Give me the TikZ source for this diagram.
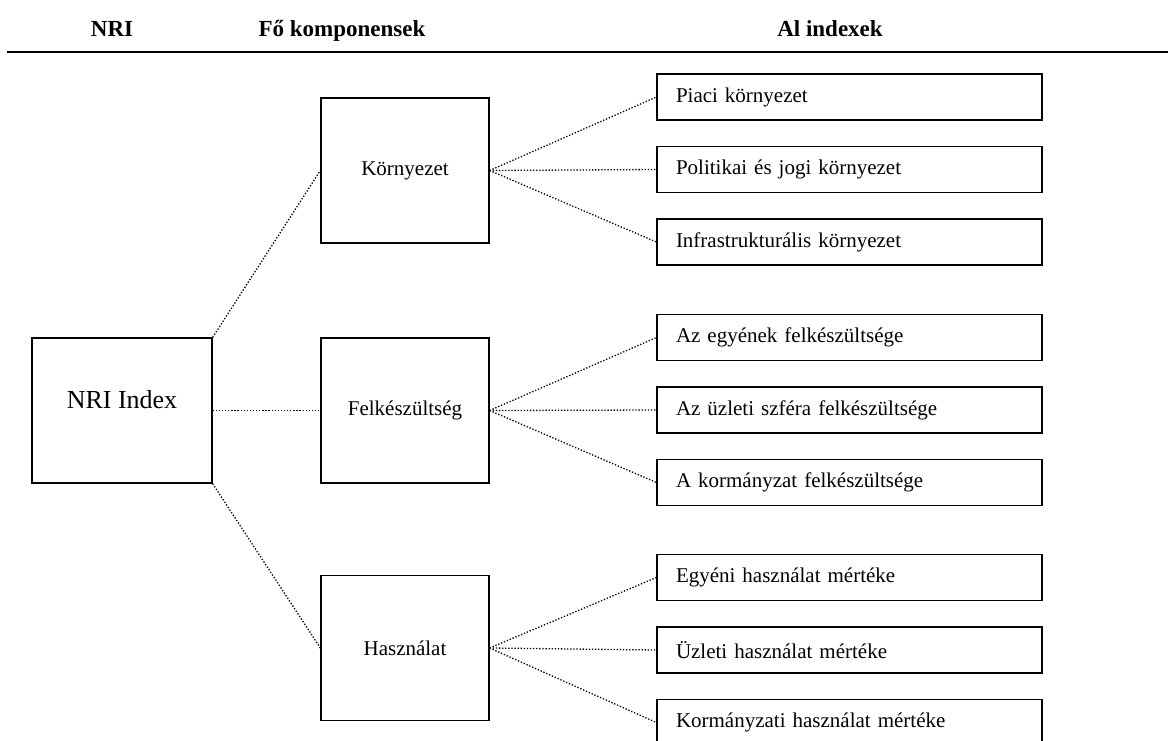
\documentclass[tikz,border=0pt]{standalone}
\usepackage{fontspec}
\setmainfont{Liberation Serif}
\begin{document}
\begin{tikzpicture}[x=1pt,y=-1pt,
  fobox/.style={draw, line width=1.3pt, minimum width=168pt, minimum height=145pt, font=\fontsize{21}{25}\selectfont},
  albox/.style={draw, line width=1.3pt, text width=347pt, inner xsep=19pt, minimum height=46pt, align=left, font=\fontsize{21}{25}\selectfont},
  fejlec/.style={anchor=base, font=\fontsize{23}{27}\selectfont\bfseries},
  pont/.style={line width=1.3pt, dash pattern=on 1.3pt off 1.8pt}]
\useasboundingbox (0,0) rectangle (1168,740);

% fejlec
\node(FNRI)[fejlec] at (112,36) {NRI};
\node(FKomp)[fejlec] at (342,36) {Fő komponensek};
\node(FAl)[fejlec] at (830,36) {Al indexek};
\draw[line width=2pt] (7,52) -- (1168,52);

% NRI
\node(NRI)[draw, line width=1.3pt, minimum width=180pt, minimum height=145pt,
  label={[yshift=11pt, font=\fontsize{26}{30}\selectfont]center:NRI Index}] at (122,410.5) {};

% fo komponensek
\node(Korny)[fobox] at (405,170.5) {Környezet};
\node(Felk)[fobox] at (405,410.5) {Felkészültség};
\node(Haszn)[fobox] at (405,648) {Használat};

% al indexek
\node(Piaci)[albox] at (849.5,97) {Piaci környezet};
\node(Polit)[albox] at (849.5,169.5) {Politikai és jogi környezet};
\node(Infra)[albox] at (849.5,242) {Infrastrukturális környezet};
\node(Egyen)[albox] at (849.5,337.5) {Az egyének felkészültsége};
\node(Uzlet)[albox] at (849.5,410) {Az üzleti szféra felkészültsége};
\node(Korm)[albox] at (849.5,482.5) {A kormányzat felkészültsége};
\node(EgyH)[albox] at (849.5,577.5) {Egyéni használat mértéke};
\node(UzlH)[albox] at (849.5,650) {Üzleti használat mértéke};
\node(KormH)[albox] at (849.5,722.5) {Kormányzati használat mértéke};

\draw[pont] (NRI.north east) edge (Korny.west);
\draw[pont] (NRI.east) edge (Felk.west);
\draw[pont] (NRI.south east) edge (Haszn.west);

\draw[pont] (Korny.east) edge (Piaci.west) edge (Polit.west) edge (Infra.west);
\draw[pont] (Felk.east) edge (Egyen.west) edge (Uzlet.west) edge (Korm.west);
\draw[pont] (Haszn.east) edge (EgyH.west) edge (UzlH.west) edge (KormH.west);
\end{tikzpicture}
\end{document}
